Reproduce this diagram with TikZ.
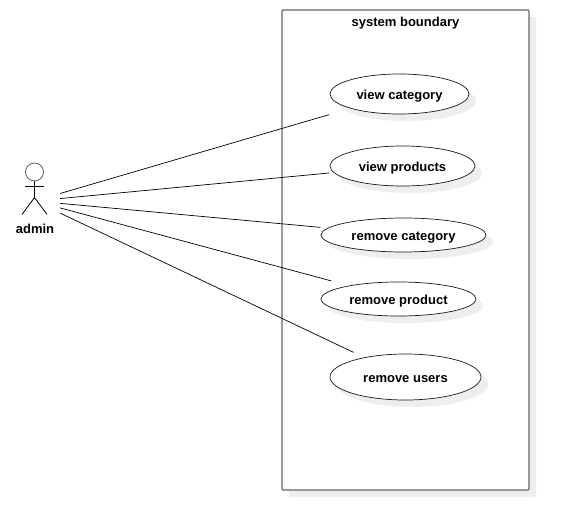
\documentclass[tikz,border=0pt]{standalone}
\usepackage{fontspec}
\setmainfont{Liberation Sans}
\usetikzlibrary{shapes.geometric,shadows,positioning}
\definecolor{shadowgray}{HTML}{EEEEEE}
\tikzstyle{softshadow}=[drop shadow={shadow xshift=7pt,shadow yshift=-7pt,fill=shadowgray,opacity=1}]
\tikzstyle{caption}=[inner sep=0pt,text height=10pt,text depth=0pt,font=\bfseries\fontsize{13}{15}\selectfont]
\tikzstyle{usecase}=[caption,draw=black!90,line width=0.7pt,fill=white,ellipse,softshadow]
\tikzstyle{boundary}=[draw=black!60,line width=1.2pt,fill=white,rounded corners=1pt,inner sep=0pt,softshadow]
\tikzstyle{limb}=[draw=black,line width=0.8pt]
\tikzstyle{assoc}=[draw=black,line width=0.7pt]

\begin{document}
\begin{tikzpicture}[x=1pt,y=-1pt]
  \useasboundingbox (0,0) rectangle (569,530);
  % boundary box
  \node[boundary,minimum width=247pt,minimum height=480pt] (system) at (405.5,250) {};
  \node[caption,below=7pt of system.north] (systemlabel) {system boundary};
  % use cases
  \node[usecase,minimum width=139pt,minimum height=40pt] (viewcat) at (399.5,94) {view category};
  \node[usecase,minimum width=145pt,minimum height=40pt] (viewprod) at (402.5,166) {view products};
  \node[usecase,minimum width=165pt,minimum height=34pt] (remcat) at (403.5,235) {remove category};
  \node[usecase,minimum width=155pt,minimum height=34pt] (remprod) at (398.5,299) {remove product};
  \node[usecase,minimum width=151pt,minimum height=46pt] (remusers) at (405.5,377) {remove users};
  % actor
  \node[draw=black!70,line width=0.7pt,circle,minimum size=18pt,inner sep=0pt] (head) at (34.5,172) {};
  \coordinate (hip) at (34.5,197.5);
  \coordinate (handl) at (25,186.5);
  \coordinate (handr) at (44,186.5);
  \coordinate (footl) at (22,214.5);
  \coordinate (footr) at (47,214.5);
  \draw[limb] (head) -- (hip);
  \draw[limb] (handl) -- (handr);
  \draw[limb] (footl) -- (hip) -- (footr);
  \node[caption] (adminlabel) at (35,228) {admin};
  \node[minimum width=51pt,minimum height=60pt,inner sep=0pt] (admin) at (34.5,201) {};
  % associations
  \draw[assoc,shorten >=22pt] (admin) -- (viewcat);
  \draw[assoc,shorten >=4.5pt] (admin) -- (viewprod);
  \draw[assoc,shorten >=7.3pt] (admin) -- (remcat);
  \draw[assoc,shorten >=18pt] (admin) -- (remprod);
  \draw[assoc,shorten >=11.7pt] (admin) -- (remusers);
\end{tikzpicture}
\end{document}
